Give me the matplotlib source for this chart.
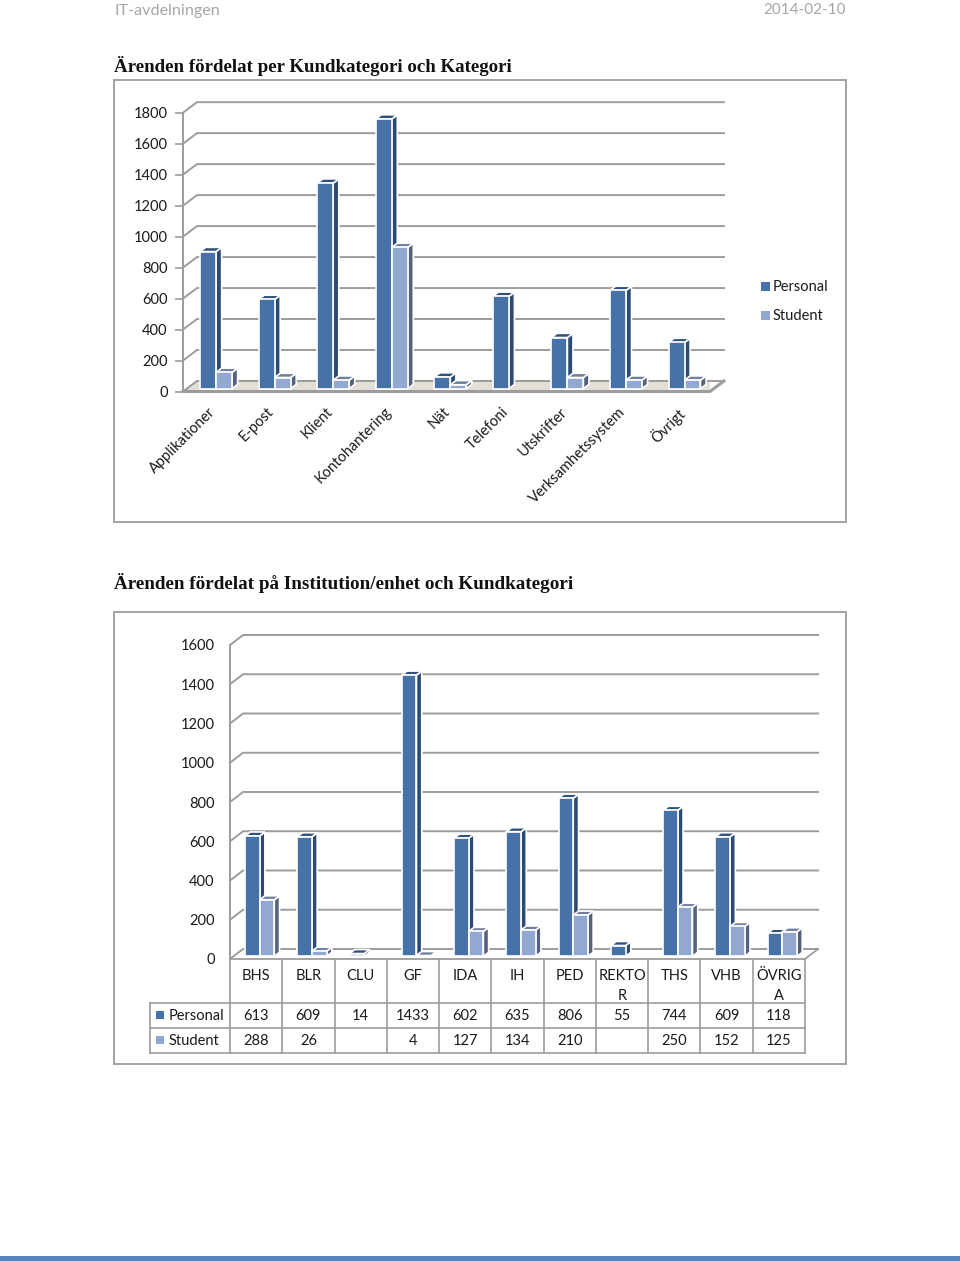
import matplotlib
matplotlib.use("Agg")
import matplotlib.pyplot as plt
from matplotlib.patches import Polygon, Rectangle
from matplotlib.transforms import ScaledTranslation

plt.rcParams['font.family'] = ['Lato', 'DejaVu Sans']

W, H = 960, 1261

series_names = ["Personal", "Student"]

kat_labels = ["Applikationer", "E-post", "Klient", "Kontohantering", "Nät",
              "Telefoni", "Utskrifter", "Verksamhetssystem", "Övrigt"]
kat_personal = [885, 576, 1327, 1741, 75, 596, 330, 634, 298]
kat_student = [105, 72, 55, 912, 25, None, 72, 55, 55]
kat_ticks = [0, 200, 400, 600, 800, 1000, 1200, 1400, 1600, 1800]

inst_labels = ["BHS", "BLR", "CLU", "GF", "IDA", "IH", "PED", "REKTO\nR", "THS", "VHB", "ÖVRIG\nA"]
inst_personal = [613, 609, 14, 1433, 602, 635, 806, 55, 744, 609, 118]
inst_student = [288, 26, None, 4, 127, 134, 210, None, 250, 152, 125]
inst_ticks = [0, 200, 400, 600, 800, 1000, 1200, 1400, 1600]

title1 = "Ärenden fördelat per Kundkategori och Kategori"
title2 = "Ärenden fördelat på Institution/enhet och Kundkategori"

FRONT = ["#4672a8", "#93a8d0"]
SIDE = ["#2b4a74", "#53617f"]
TOP = ["#30507e", "#707f9e"]
GRID = "#9c9c9c"
TEXT = "#1a1a1a"


def add_axes_px(fig, left, right, top, bottom):
    return fig.add_axes([left / W, 1 - bottom / H, (right - left) / W, (bottom - top) / H])


def draw_3d_bars(ax, n, series, dx, dy, width, ticks, tick_len, floor_c, floor_lw):
    # wall, floor and gridlines first, bars on top
    x0, x1 = -0.5, n - 0.5
    ax.add_patch(Polygon([(x0, 0), (x1, 0), (x1 + dx, dy), (x0 + dx, dy)],
                         fc=floor_c, ec="none", zorder=1))
    for t in ticks:
        ax.plot([x0, x0 + dx, x1 + dx], [t, t + dy, t + dy], color=GRID, lw=1.4,
                zorder=2, clip_on=False, solid_joinstyle="miter")
    ax.plot([x0, x0], [0, ticks[-1]], color=GRID, lw=1.4, zorder=2, clip_on=False)
    ax.plot([x0, x1, x1 + dx], [0, 0, dy], color=GRID, lw=floor_lw, zorder=2, clip_on=False)
    ax.tick_params(axis="y", length=tick_len, width=1.2, color=GRID)

    f, d = 0.27, 0.4
    for i in range(n):
        for s, vals in enumerate(series):
            v = vals[i]
            if v is None:
                continue
            l = i + f * dx - width + s * width
            r = l + width
            b = f * dy
            ox, oy = d * dx, d * dy
            kw = dict(ec="white", lw=1.2, zorder=3 + s, clip_on=False, joinstyle="miter")
            ax.add_patch(Polygon([(r, b), (r + ox, b + oy), (r + ox, b + v + oy), (r, b + v)],
                                 fc=SIDE[s], **kw))
            ax.add_patch(Polygon([(l, b + v), (r, b + v), (r + ox, b + v + oy), (l + ox, b + v + oy)],
                                 fc=TOP[s], **kw))
            ax.add_patch(Rectangle((l, b), width, v, fc=FRONT[s], **kw))


def setup_axes(ax, n, ymax, ticks, size, pad):
    ax.set_xlim(-0.5, n - 0.5)
    ax.set_ylim(0, ymax)
    ax.patch.set_visible(False)
    for sp in ax.spines.values():
        sp.set_visible(False)
    ax.set_yticks(ticks)
    ax.tick_params(axis="y", labelsize=size, labelcolor=TEXT, pad=pad)


fig = plt.figure(figsize=(W / 100, H / 100), dpi=100)

page = fig.add_axes([0, 0, 1, 1])
page.set_xlim(0, W)
page.set_ylim(H, 0)
page.axis("off")

page.text(114, 10.5, "IT-avdelningen", color="#a6a6a6", fontsize=11.6, va="center")
page.text(846, 10.5, "2014-02-10", color="#a6a6a6", fontsize=11, va="center", ha="right")
page.add_patch(Rectangle((0, 1256), W, 5, fc="#5685bd", ec="none"))

page.text(114, 66, title1, family="Liberation Serif", weight="bold", fontsize=13.6, color="#111111", va="center")
page.text(114, 583, title2, family="Liberation Serif", weight="bold", fontsize=13.8, color="#111111", va="center")

page.add_patch(Rectangle((114, 80), 732, 442, fc="white", ec="#a3a3a3", lw=1.4))
page.add_patch(Rectangle((114, 612), 732, 452, fc="white", ec="#a3a3a3", lw=1.4))

# first chart
ax1 = add_axes_px(fig, 183, 710, 112.7, 391.5)
setup_axes(ax1, len(kat_labels), 1800, kat_ticks, 10.5, 5)
draw_3d_bars(ax1, len(kat_labels), [kat_personal, kat_student], 0.239, 68, 0.273, kat_ticks, 6, "#e2dfd8", 2.2)
ax1.set_xticks(range(len(kat_labels)))
ax1.set_xticklabels(kat_labels, rotation=45, ha="right", rotation_mode="anchor", fontsize=10.5, color=TEXT)
ax1.tick_params(axis="x", length=0, pad=9.5)
for lab in ax1.get_xticklabels():
    lab.set_transform(lab.get_transform() + ScaledTranslation(-4 / 100, 0, fig.dpi_scale_trans))

for name, c, y in zip(series_names, FRONT, [286, 315]):
    page.add_patch(Rectangle((760.5, y - 4.5), 9, 9, fc=c, ec="none"))
    page.text(773, y + 1, name, fontsize=10.5, color=TEXT, va="center")

# second chart
n2 = len(inst_labels)
ax2 = add_axes_px(fig, 230, 805, 645, 959)
setup_axes(ax2, n2, 1600, inst_ticks, 10.5, 11)
draw_3d_bars(ax2, n2, [inst_personal, inst_student], 0.25, 51, 0.28, inst_ticks, 0, "white", 1.3)
ax2.set_xticks([])

# data table under the second chart
x_col = 230
col_w = (805 - 230) / n2
rows_y = [959, 1003, 1028, 1053]
for i in range(n2 + 1):
    x = x_col + i * col_w
    page.plot([x, x], [rows_y[0], rows_y[-1]], color=GRID, lw=1.2)
for y in rows_y[1:]:
    page.plot([150, 805], [y, y], color=GRID, lw=1.2)
page.plot([150, 150], [rows_y[1], rows_y[-1]], color=GRID, lw=1.2)

for i, lab in enumerate(inst_labels):
    xc = x_col + (i + 0.5) * col_w
    page.text(xc, 969, lab, fontsize=10.5, color=TEXT, ha="center", va="top", linespacing=1.5)
    for y, vals in zip([1016, 1041], [inst_personal, inst_student]):
        if vals[i] is not None:
            page.text(xc, y, str(vals[i]), fontsize=10.5, color=TEXT, ha="center", va="center")

for name, c, y in zip(series_names, FRONT, [1015, 1040]):
    page.add_patch(Rectangle((156, y - 4), 8, 8, fc=c, ec="none"))
    page.text(168.5, y + 1, name, fontsize=10.5, color=TEXT, va="center")

fig.savefig("out.png", dpi=100)
